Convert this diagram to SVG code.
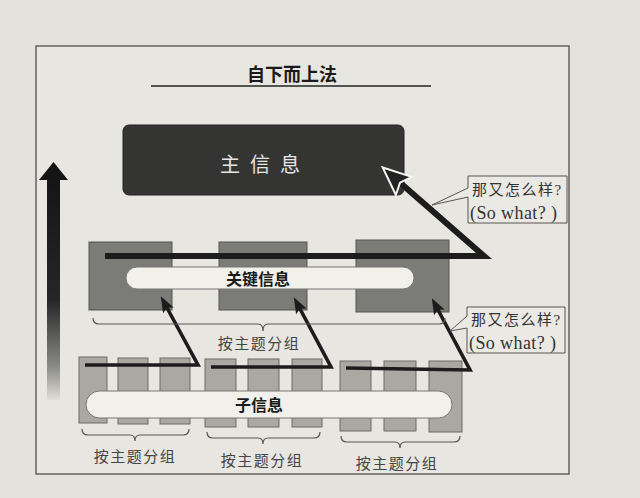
<svg xmlns="http://www.w3.org/2000/svg" width="640" height="498" viewBox="0 0 640 498">
<style>
.cn{font-family:"Noto Sans CJK SC","Noto Sans",sans-serif}
.lbl{font-size:15px;fill:#444;letter-spacing:1.5px;text-anchor:middle}
.bold{font-size:16px;font-weight:bold;fill:#1a1a1a;text-anchor:middle}
.co{font-family:"Liberation Serif","Noto Sans CJK SC",serif;font-size:15px;fill:#333}
.co2{font-family:"Liberation Serif","Noto Sans CJK SC",serif;font-size:18px;fill:#333;letter-spacing:0.4px}
.brace{fill:none;stroke:#555;stroke-width:1.2}
.mid{fill:#7b7b78;stroke:#555;stroke-width:1}
.low{fill:#a9a8a3;stroke:#6a6a6a;stroke-width:1}
.pill{fill:#f1f0eb;stroke:#777;stroke-width:1}
.thick{fill:none;stroke:#1c1c1c;stroke-width:6;stroke-linejoin:miter;stroke-miterlimit:10}
.thin{fill:none;stroke:#1c1c1c;stroke-width:3.6;stroke-linejoin:miter;stroke-miterlimit:10}
.callout{fill:#ebe9e3;stroke:#555;stroke-width:1}
</style>
<defs>
<linearGradient id="upg" x1="0" y1="0" x2="0" y2="1">
<stop offset="0" stop-color="#151515"/>
<stop offset="0.55" stop-color="#262626"/>
<stop offset="0.85" stop-color="#8a8a88"/>
<stop offset="1" stop-color="#e0ded8"/>
</linearGradient>
<marker id="bigHead" viewBox="0 0 30 26" refX="10" refY="13" markerWidth="30" markerHeight="26" markerUnits="userSpaceOnUse" orient="auto" overflow="visible">
<path d="M1,1 L29,13 L1,25 L6,13 Z" fill="#222" stroke="#f4f4f2" stroke-width="2"/>
</marker>
<marker id="smallHead" viewBox="0 0 16 12" refX="5" refY="6" markerWidth="16" markerHeight="12" markerUnits="userSpaceOnUse" orient="auto" overflow="visible">
<path d="M0,0 L16,6 L0,12 L3,6 Z" fill="#1c1c1c"/>
</marker>
</defs>
<rect x="0" y="0" width="640" height="498" fill="#e4e2dc"/>
<rect id="frame" x="36" y="46" width="533" height="428" fill="#e8e6e0" stroke="#444" stroke-width="1.2"/>

<g id="title">
<text x="292" y="81" class="cn" font-size="18" font-weight="bold" fill="#1a1a1a" text-anchor="middle">自下而上法</text>
<line x1="151" y1="86" x2="431" y2="86" stroke="#222" stroke-width="1.6"/>
</g>

<g id="upArrow">
<rect x="47" y="178" width="13" height="222" fill="url(#upg)"/>
<polygon points="53.5,162 68,180 39,180" fill="#151515"/>
</g>

<g id="mainMessage">
<rect x="123" y="125" width="281" height="70" rx="6" fill="#343433" stroke="#222"/>
<text x="265" y="172" class="cn" font-size="20" fill="#e6e6e4" letter-spacing="10" text-anchor="middle">主信息</text>
</g>

<g id="keyBoxes">
<rect class="mid" x="89" y="242" width="83" height="68"/>
<rect class="mid" x="219" y="242" width="88" height="68"/>
<rect class="mid" x="356" y="240" width="93" height="72"/>
</g>

<g id="keyMessage">
<rect class="pill" x="126" y="267" width="288" height="22" rx="11"/>
<text x="258" y="285" class="cn bold">关键信息</text>
</g>

<g id="subBoxes">
<rect class="low" x="79" y="357" width="28" height="66"/>
<rect class="low" x="118" y="358" width="30" height="66"/>
<rect class="low" x="160" y="358" width="30" height="66"/>
<rect class="low" x="205" y="359" width="31" height="68"/>
<rect class="low" x="248" y="359" width="31" height="68"/>
<rect class="low" x="292" y="359" width="30" height="68"/>
<rect class="low" x="340" y="361" width="31" height="70"/>
<rect class="low" x="384" y="361" width="32" height="70"/>
<rect class="low" x="429" y="361" width="33" height="71"/>
</g>

<g id="subMessage">
<rect class="pill" x="86" y="391" width="366" height="27" rx="13.5"/>
<text x="259" y="411" class="cn bold">子信息</text>
</g>

<g id="connectors">
<path class="thick" d="M105,256 L484,256 L397,180" marker-end="url(#bigHead)"/>
<path class="thin" d="M85,365 L198,365 L166,306" marker-end="url(#smallHead)"/>
<path class="thin" d="M211,367 L331,367 L299,307" marker-end="url(#smallHead)"/>
<path class="thin" d="M346,368 L470,370 L437,308" marker-end="url(#smallHead)"/>
</g>

<g id="braceMid">
<path class="brace" d="M93,318 Q93,324 99,324 H258 Q263,324 263,331 Q263,324 268,324 H439 Q445,324 445,318"/>
<text x="259" y="349" class="cn lbl">按主题分组</text>
</g>
<g id="brace1">
<path class="brace" d="M82,429 Q82,435 88,435 H130 Q135,435 135,441 Q135,435 140,435 H183 Q189,435 189,429"/>
<text x="135" y="462" class="cn lbl">按主题分组</text>
</g>
<g id="brace2">
<path class="brace" d="M207,432 Q207,438 213,438 H258 Q263,438 263,444 Q263,438 268,438 H314 Q320,438 320,432"/>
<text x="262" y="466" class="cn lbl">按主题分组</text>
</g>
<g id="brace3">
<path class="brace" d="M341,436 Q341,442 347,442 H395 Q400,442 400,448 Q400,442 405,442 H454 Q460,442 460,436"/>
<text x="397" y="469" class="cn lbl">按主题分组</text>
</g>

<g id="callout1">
<path class="callout" d="M468,176 H567 V223 H468 V197 L432,205 L468,188 Z"/>
<text x="472" y="195" class="co" letter-spacing="1.5">那又怎么样?</text>
<text x="470" y="219" class="co2">(So what? )</text>
</g>
<g id="callout2">
<path class="callout" d="M467,307 H565 V353 H467 V328 L450,331 L467,316 Z"/>
<text x="471" y="325" class="co" letter-spacing="1.5">那又怎么样?</text>
<text x="469" y="349" class="co2">(So what? )</text>
</g>
</svg>
